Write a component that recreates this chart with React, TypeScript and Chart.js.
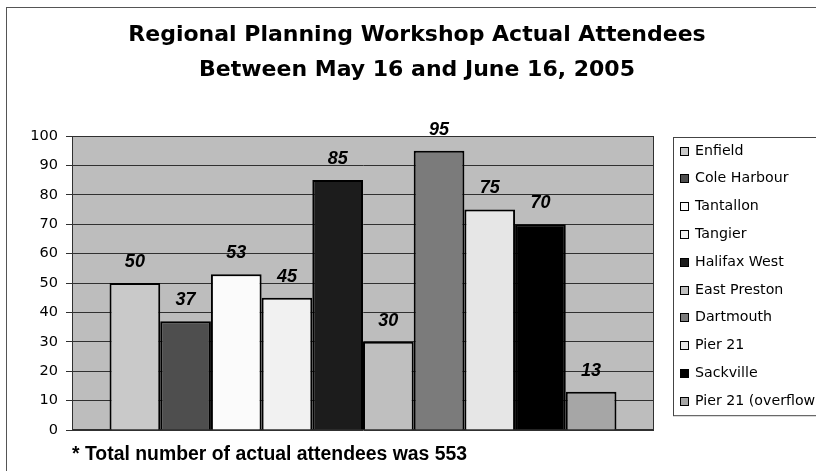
import React, { useEffect, useRef } from "react";
import { Chart, registerables } from "chart.js";

Chart.register(...registerables);

const categories = [""];
const seriesNames = [
  "Enfield",
  "Cole Harbour",
  "Tantallon",
  "Tangier",
  "Halifax West",
  "East Preston",
  "Dartmouth",
  "Pier 21",
  "Sackville",
  "Pier 21 (overflow)",
];
const seriesValues = [50, 37, 53, 45, 85, 30, 95, 75, 70, 13];
const seriesColors = [
  "#c9c9c9",
  "#4e4e4e",
  "#fbfbfb",
  "#f1f1f1",
  "#1c1c1c",
  "#bfbfbf",
  "#7b7b7b",
  "#e6e6e6",
  "#000000",
  "#a6a6a6",
];
const yMin = 0;
const yMax = 100;
const yStep = 10;
const titleLines = [
  "Regional Planning Workshop Actual Attendees",
  "Between May 16 and June 16, 2005",
];
const footnote = "* Total number of actual attendees was 553";

const W = 816;
const H = 471;

const decorPlugin = {
  id: "decor",
  beforeDraw(chart: any) {
    const { ctx, chartArea } = chart;
    ctx.save();
    ctx.fillStyle = "#ffffff";
    ctx.fillRect(0, 0, chart.width, chart.height);
    ctx.strokeStyle = "#555555";
    ctx.lineWidth = 1;
    ctx.strokeRect(6.5, 7.5, chart.width + 20, chart.height + 20);
    ctx.fillStyle = "#bdbdbd";
    ctx.fillRect(chartArea.left, chartArea.top, chartArea.right - chartArea.left, chartArea.bottom - chartArea.top);
    ctx.restore();
  },
  beforeDatasetsDraw(chart: any) {
    const { ctx, chartArea } = chart;
    ctx.save();
    ctx.strokeStyle = "#303030";
    ctx.lineWidth = 1;
    ctx.strokeRect(
      Math.round(chartArea.left) + 0.5,
      Math.round(chartArea.top) + 0.5,
      Math.round(chartArea.right - chartArea.left) - 1,
      Math.round(chartArea.bottom - chartArea.top) - 1
    );
    ctx.restore();
  },
  afterDatasetsDraw(chart: any) {
    const { ctx } = chart;
    ctx.save();
    ctx.font = "italic bold 18px 'Liberation Sans', Arial, sans-serif";
    ctx.fillStyle = "#000000";
    ctx.textAlign = "center";
    ctx.textBaseline = "middle";
    chart.data.datasets.forEach((ds: any, i: number) => {
      const meta = chart.getDatasetMeta(i);
      meta.data.forEach((el: any, j: number) => {
        ctx.fillText(String(ds.data[j]), el.x, el.y - 21);
      });
    });
    ctx.restore();
  },
  afterDraw(chart: any) {
    const { ctx, chartArea } = chart;
    const boxLeft = Math.round(chartArea.right) + 19;
    const boxTop = Math.round(chartArea.top) + 1;
    const rowH = 27.8;
    const n = chart.data.datasets.length;
    ctx.save();
    ctx.strokeStyle = "#444444";
    ctx.lineWidth = 1;
    ctx.strokeRect(boxLeft + 0.5, boxTop + 0.5, chart.width, 14 + rowH * (n - 1) + 14);
    ctx.font = "14.2px 'DejaVu Sans', sans-serif";
    ctx.textBaseline = "middle";
    ctx.textAlign = "left";
    chart.data.datasets.forEach((ds: any, i: number) => {
      const cy = boxTop + 14 + i * rowH;
      const sx = boxLeft + 7;
      ctx.fillStyle = ds.backgroundColor;
      ctx.fillRect(sx, Math.round(cy - 4.5), 9, 9);
      ctx.strokeStyle = "#000000";
      ctx.strokeRect(sx + 0.5, Math.round(cy - 4.5) + 0.5, 8, 8);
      ctx.fillStyle = "#000000";
      ctx.fillText(ds.label, sx + 15, cy);
    });
    ctx.restore();
  },
};

export default function App() {
  const ref = useRef<HTMLCanvasElement | null>(null);

  useEffect(() => {
    if (!ref.current) return;
    const chart = new Chart(ref.current, {
      type: "bar",
      data: {
        labels: categories,
        datasets: seriesNames.map((name, i) => ({
          label: name,
          data: [seriesValues[i]],
          backgroundColor: seriesColors[i],
          borderColor: "#000000",
          borderWidth: 2,
        })),
      },
      options: {
        responsive: false,
        animation: false,
        devicePixelRatio: 1,
        layout: { padding: { left: 18, right: 0, top: 0, bottom: 0 } },
        datasets: {
          bar: { barPercentage: 1, categoryPercentage: 0.871 },
        },
        plugins: {
          legend: { display: false },
          tooltip: { enabled: false },
          title: {
            display: true,
            text: titleLines,
            color: "#000000",
            font: { family: "'DejaVu Sans', sans-serif", size: 22, weight: "bold", lineHeight: 35 / 22 },
            padding: { top: 17.5, bottom: 48.5 },
          },
          subtitle: {
            display: true,
            position: "bottom",
            align: "start",
            fullSize: false,
            text: footnote,
            color: "#000000",
            font: { family: "'Liberation Sans', Arial, sans-serif", size: 19.4, weight: "bold", lineHeight: 1.2 },
            padding: { top: 13, bottom: 4.7 },
          },
        },
        scales: {
          x: { display: false },
          y: {
            min: yMin,
            max: yMax,
            position: "left",
            ticks: {
              stepSize: yStep,
              color: "#000000",
              padding: 8,
              font: { family: "'DejaVu Sans', sans-serif", size: 14.5 },
            },
            grid: { color: "#303030", lineWidth: 1, tickLength: 6, drawTicks: true },
            border: { display: true, color: "#303030", width: 1 },
            afterFit: (s: any) => {
              s.width = 54;
            },
          },
          yr: {
            type: "linear",
            position: "right",
            display: true,
            ticks: { display: false },
            grid: { display: false },
            border: { display: false },
            afterFit: (s: any) => {
              s.width = 162;
            },
          },
        },
      } as any,
      plugins: [decorPlugin],
    });
    return () => chart.destroy();
  }, []);

  return (
    <div style={{ position: "fixed", left: 0, top: 0, width: W, height: H, overflow: "hidden", background: "#fff" }}>
      <canvas ref={ref} width={W} height={H} style={{ display: "block", width: W, height: H }} />
    </div>
  );
}
